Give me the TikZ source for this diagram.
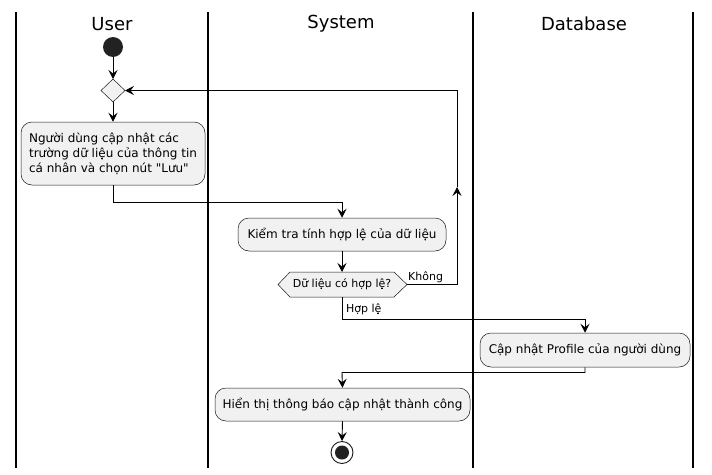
\documentclass[tikz,border=0pt]{standalone}
\usepackage{fontspec}
\setmainfont{DejaVu Sans}[Ligatures=TeXOff]
\usetikzlibrary{arrows.meta}
\definecolor{boxfill}{HTML}{F1F1F1}
\definecolor{boxline}{HTML}{181818}
\definecolor{startfill}{HTML}{222222}
\begin{document}
\begin{tikzpicture}[x=1pt,y=-1pt,
  lane/.style={line width=1.4pt,black},
  title/.style={font=\fontsize{18}{20}\selectfont},
  act/.style={draw=boxline,line width=0.5pt,fill=boxfill,rounded corners=11pt,inner sep=0pt,font=\fontsize{12}{15}\selectfont,align=left},
  flow/.style={line width=0.9pt,-{Stealth[length=9pt,width=9pt,inset=3.5pt]}},
  lbl/.style={font=\fontsize{11}{13}\selectfont,inner sep=0pt}]
\useasboundingbox (0,0) rectangle (712,474);
% lanes
\foreach \x in {16,208,473,693} \draw[lane] (\x,12) -- (\x,468);
\node[title] (tU) at (112,24) {User};
\node[title] (tS) at (341,24) {System};
\node[title] (tD) at (584,24) {Database};
% start
\node[circle,fill=startfill,minimum size=20pt,inner sep=0pt] (start) at (113,47) {};
% merge diamond
\draw[draw=boxline,line width=0.5pt,fill=boxfill] (101,90.5) -- (113,79) -- (125,90.5) -- (113,102) -- cycle;
\coordinate (mN) at (113,79);
\coordinate (mE) at (125,90.5);
\coordinate (mS) at (113,102);
% action 1
\node[act,minimum width=184pt,minimum height=63pt] (a1) at (113,153.5)
  {Người dùng cập nhật các\\trường dữ liệu của thông tin\\cá nhân và chọn nút "Lưu"};
% action 2
\node[act,minimum width=208pt,minimum height=33pt] (a2) at (342,234.5) {Kiểm tra tính hợp lệ của dữ liệu};
% decision
\draw[draw=boxline,line width=0.5pt,fill=boxfill] (278,284.5) -- (290,272) -- (394,272) -- (407,284.5) -- (394,297) -- (290,297) -- cycle;
\node[font=\fontsize{11}{13}\selectfont,inner sep=0pt] (dec) at (342,284.5) {Dữ liệu có hợp lệ?};
\coordinate (dE) at (407,284.5);
\coordinate (dN) at (342,272);
\coordinate (dS) at (342,297);
% action 3
\node[act,minimum width=210pt,minimum height=34pt] (a3) at (585,350) {Cập nhật Profile của người dùng};
% action 4
\node[act,minimum width=255pt,minimum height=33pt] (a4) at (342.5,404.5) {Hiển thị thông báo cập nhật thành công};
% end
\node[circle,draw=boxline,line width=0.9pt,fill=white,minimum size=22pt,inner sep=0pt] (stop) at (342,452.5) {};
\node[circle,fill=startfill,minimum size=14pt,inner sep=0pt] (stopin) at (342,452.5) {};
% connectors
\draw[flow] (start) -- (mN);
\draw[flow] (mS) -- (a1.north);
\coordinate (c1) at (113,202);
\coordinate (c2) at (342,202);
\draw[flow] (a1.south) -- (c1) -- (c2) -- (a2.north);
\draw[flow] (a2.south) -- (dN);
\coordinate (k1) at (457,284.5);
\coordinate (k2) at (457,187);
\coordinate (k3) at (457,90.5);
\draw[flow] (dE) -- (k1) -- (k2);
\draw[flow] (k2) -- (k3) -- (mE);
\node[lbl,anchor=south west] (lk) at (408,283) {Không};
\coordinate (h1) at (342,319);
\coordinate (h2) at (585,319);
\draw[flow] (dS) -- (h1) -- (h2) -- (a3.north);
\node[lbl,anchor=south west] (lh) at (346,315) {Hợp lệ};
\coordinate (p1) at (585,372.5);
\coordinate (p2) at (342,372.5);
\draw[flow] (a3.south) -- (p1) -- (p2) -- (a4.north);
\draw[flow] (a4.south) -- (stop.north);
\end{tikzpicture}
\end{document}
